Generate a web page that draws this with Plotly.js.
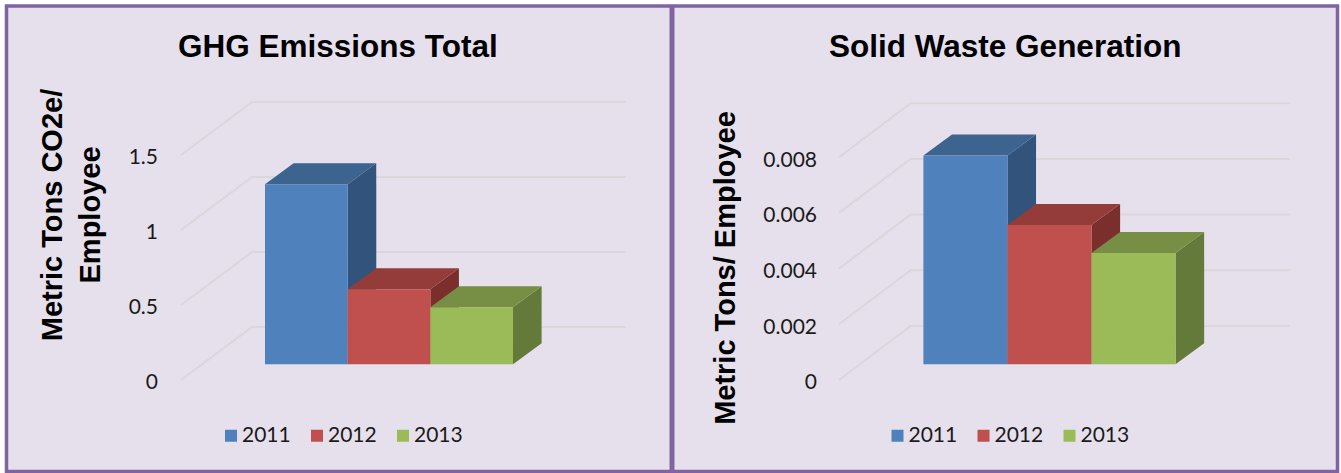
<!DOCTYPE html>
<html>
<head>
<meta charset="utf-8">
<script src="https://cdn.plot.ly/plotly-3.0.1.min.js"></script>
<style>
html,body{margin:0;padding:0;background:#fff}
#chart{width:1341px;height:473px}
/* tighter legend entries: larger swatch, text closer to it */
#chart .legendtext,#chart .legend2text{transform:translate(-9px,-2px)}
#chart .legendbar{transform:scale(1.17)}
</style>
</head>
<body>
<div id="chart"></div>
<script>
// ---- chart values ----
const years = ["2011", "2012", "2013"];
const ghgValues = [1.2, 0.5, 0.38];
const wasteValues = [0.0075, 0.005, 0.004];
const ghgTicks = [0, 0.5, 1, 1.5];
const ghgTickText = ["0", "0.5", "1", "1.5"];
const wasteTicks = [0, 0.002, 0.004, 0.006, 0.008];
const wasteTickText = ["0", "0.002", "0.004", "0.006", "0.008"];
const ghgTitle = "GHG Emissions Total";
const wasteTitle = "Solid Waste Generation";
const ghgAxisTitle = "Metric Tons CO2e/<br>Employee";
const wasteAxisTitle = "Metric Tons/ Employee";

// ---- colours ----
const frontColors = ["#4F81BD", "#C0504D", "#9BBB59"];
const topColors = ["#3D638F", "#933C39", "#778F45"];
const sideColors = ["#31537C", "#7A2F2D", "#647A3A"];
const gridColor = "#D9D6DC";
const W = 1341, H = 473;
const TEXT_FONT = "Lato, 'Open Sans', sans-serif";
const BOLD_FONT = "'Liberation Sans', Arial, sans-serif";

// ---- projection geometry of each panel (pixels) ----
const geoLeft = {pxL:159, pxR:632, pxT:33, pxB:397, zero:380, barL:265, barW:82.67, unit:150,
  gridX0:181, gridX1:626, gridDx:71, gridDy:53, depthDx:28.6, depthDy:21, floor:15.7,
  xa:"x", ya:"y", legend:"legend", standoff:19};
const geoRight = {pxL:818, pxR:1296, pxT:95, pxB:441, zero:380, barL:923.4, barW:84.05, unit:27850,
  gridX0:839, gridX1:1290, gridDx:71.6, gridDy:54, depthDx:28.6, depthDy:21, floor:15.7,
  xa:"x2", ya:"y2", legend:"legend2", standoff:19};

const xData = (g, px) => (px - g.barL) / g.barW - 0.5;

function panelTraces(g, values) {
  return values.map((v, i) => ({
    type: "bar", name: years[i], x: [i], y: [v], base: [g.floor / g.unit], width: 1,
    xaxis: g.xa, yaxis: g.ya, legend: g.legend,
    marker: {color: frontColors[i], line: {width: 0}}, hoverinfo: "name+y"
  }));
}

function poly(g, pts, fill) {
  return {type:"path", xref:g.xa, yref:g.ya, layer:"below", fillcolor:fill, line:{width:0},
    path: "M" + pts.map(p => p[0] + " " + p[1]).join("L") + "Z"};
}

function gridShapes(g, ticks) {
  const dy = g.gridDy / g.unit;
  const x0 = xData(g, g.gridX0), x1 = xData(g, g.gridX0 + g.gridDx), x2 = xData(g, g.gridX1);
  return ticks.map(t => ({type:"path", xref:g.xa, yref:g.ya, layer:"below",
    line:{color:gridColor, width:2},
    path:`M${x0} ${t}L${x1} ${t + dy}L${x2} ${t + dy}`}));
}

function faceShapes(g, values) {
  const dx = g.depthDx / g.barW, dy = g.depthDy / g.unit, base = g.floor / g.unit;
  const out = [];
  values.forEach((v, i) => {
    const l = i - 0.5, r = i + 0.5, t = base + v;
    out.push(poly(g, [[r, base], [r + dx, base + dy], [r + dx, t + dy], [r, t]], sideColors[i]));
    out.push(poly(g, [[l, t], [r, t], [r + dx, t + dy], [l + dx, t + dy]], topColors[i]));
  });
  return out;
}

function xAxis(g) {
  return {domain:[g.pxL / W, g.pxR / W], range:[xData(g, g.pxL), xData(g, g.pxR)],
    visible:false, fixedrange:true, anchor:g.ya};
}
function yAxis(g, ticks, text, title) {
  return {domain:[(H - g.pxB) / H, (H - g.pxT) / H],
    range:[(g.zero - g.pxB) / g.unit, (g.zero - g.pxT) / g.unit],
    anchor:g.xa, tickmode:"array", tickvals:ticks, ticktext:text, ticks:"", ticklabelshift:2,
    showgrid:false, zeroline:false, showline:false, fixedrange:true,
    tickfont:{family:TEXT_FONT, size:21, color:"#1a1a1a"},
    title:{text:title, standoff:g.standoff, font:{family:BOLD_FONT, size:29, weight:700, color:"#000"}}};
}
function legendAt(px) {
  return {orientation:"h", x:px / W, xanchor:"left", y:(H - 436) / H, yanchor:"middle",
    bgcolor:"rgba(0,0,0,0)", entrywidth:41, entrywidthmode:"pixels", traceorder:"normal",
    font:{family:TEXT_FONT, size:21, color:"#1a1a1a"}};
}
function titleAnn(text, cx) {
  return {text, xref:"paper", yref:"paper", x:cx / W, y:(H - 46) / H, showarrow:false,
    xanchor:"center", yanchor:"middle", font:{family:BOLD_FONT, size:31.5, weight:700, color:"#000"}};
}

const frame = [
  {type:"rect", xref:"paper", yref:"paper", layer:"below", x0:6.5 / W, x1:1337.5 / W, y0:(H - 471.5) / H, y1:(H - 6) / H,
    fillcolor:"#E6E0EC", line:{color:"#8064A2", width:3.5}},
  {type:"line", xref:"paper", yref:"paper", layer:"below", x0:672 / W, x1:672 / W, y0:(H - 471.5) / H, y1:(H - 6) / H,
    line:{color:"#8064A2", width:5}}
];

const layout = {
  width:W, height:H, margin:{l:0, r:0, t:0, b:0}, paper_bgcolor:"#fff", plot_bgcolor:"rgba(0,0,0,0)",
  barmode:"overlay", showlegend:true,
  xaxis:xAxis(geoLeft), yaxis:yAxis(geoLeft, ghgTicks, ghgTickText, ghgAxisTitle),
  xaxis2:xAxis(geoRight), yaxis2:yAxis(geoRight, wasteTicks, wasteTickText, wasteAxisTitle),
  legend:legendAt(211), legend2:legendAt(877.5),
  annotations:[titleAnn(ghgTitle, 338), titleAnn(wasteTitle, 1005)],
  shapes:frame.concat(
    gridShapes(geoLeft, ghgTicks), faceShapes(geoLeft, ghgValues),
    gridShapes(geoRight, wasteTicks), faceShapes(geoRight, wasteValues))
};

Plotly.newPlot("chart", panelTraces(geoLeft, ghgValues).concat(panelTraces(geoRight, wasteValues)), layout,
  {displayModeBar:false});
</script>
</body>
</html>
